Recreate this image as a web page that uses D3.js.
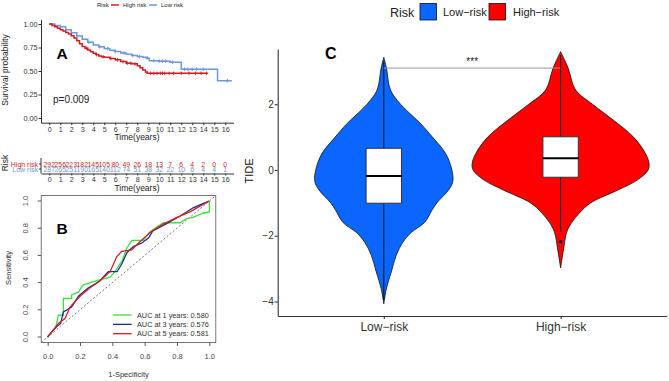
<!DOCTYPE html>
<html><head><meta charset="utf-8">
<script src="https://cdn.jsdelivr.net/npm/d3@7"></script>
<style>body{margin:0;background:#fff}svg{display:block;font-family:"Liberation Sans",Arial,sans-serif}</style>
</head><body><svg id="c" width="669" height="381"></svg>
<script>
// ---------- Panel A: Kaplan-Meier ----------
const kmHighT = [0,0.25,0.5,0.75,1.0,1.25,1.5,1.75,2.0,2.25,2.5,2.75,3.0,3.25,3.5,3.75,4.0,4.25,4.5,4.75,5.0,5.5,6.0,6.5,7.0,7.5,8.0,8.25,8.5,8.75,8.9];
const kmHighS = [1,0.985,0.97,0.955,0.94,0.925,0.91,0.893,0.876,0.85,0.823,0.79,0.76,0.742,0.724,0.705,0.69,0.675,0.66,0.652,0.647,0.633,0.62,0.60,0.583,0.576,0.555,0.535,0.51,0.49,0.475];
const kmHighEnd = 14.4;
const kmHighCens = [3.4,4.3,4.9,5.6,6.2,6.7,7.1,7.4,7.8,9.2,9.5,9.8,10.1,10.3,10.5,10.9,11.3,12.0,12.7,13.3,13.8,14.3];
const kmLowT = [0,0.5,1.0,1.5,2.0,2.5,3.0,3.5,4.0,4.5,5.0,5.5,6.0,6.5,7.0,7.5,8.0,8.5,8.9,9.1,10.0,11.0,12.0,15.3];
const kmLowS = [1,0.985,0.97,0.94,0.908,0.872,0.837,0.805,0.777,0.758,0.74,0.722,0.707,0.692,0.678,0.665,0.654,0.645,0.635,0.61,0.605,0.594,0.518,0.397];
const kmLowEnd = 16.6;
const kmLowCens = [3.6,4.6,5.3,6.0,6.8,7.6,8.2,8.9,9.5,10.0,10.3,10.6,11.2,12.3,12.6,13.0,13.4,14.0,16.2];
const timeTicks = [0,1,2,3,4,5,6,7,8,9,10,11,12,13,14,15,16];
const survTicks = [0,0.25,0.5,0.75,1];
const riskHigh = [292,256,223,182,145,105,80,49,26,18,13,7,6,4,2,0,0];
const riskLow = [287,265,251,190,165,140,112,74,51,38,32,22,10,6,4,4,1];
const pText = "p=0.009";

// ---------- Panel B: ROC ----------
const roc1 = [[0,0],[0.02,0.03],[0.05,0.07],[0.066,0.16],[0.097,0.16],[0.097,0.283],[0.148,0.283],[0.148,0.31],[0.19,0.33],[0.22,0.383],[0.32,0.42],[0.386,0.44],[0.416,0.48],[0.46,0.56],[0.49,0.655],[0.52,0.71],[0.59,0.71],[0.63,0.77],[0.715,0.84],[0.78,0.84],[0.82,0.84],[0.86,0.87],[0.9,0.88],[0.96,0.91],[1,0.92],[1,1]];
const roc3 = [[0,0],[0.02,0.03],[0.05,0.07],[0.08,0.1],[0.097,0.185],[0.148,0.22],[0.19,0.3],[0.25,0.36],[0.32,0.41],[0.375,0.48],[0.43,0.48],[0.46,0.54],[0.49,0.62],[0.53,0.665],[0.58,0.69],[0.625,0.73],[0.65,0.78],[0.73,0.83],[0.82,0.89],[0.9,0.95],[0.96,0.98],[1,1]];
const roc5 = [[0,0],[0.02,0.03],[0.04,0.06],[0.066,0.1],[0.107,0.135],[0.138,0.22],[0.2,0.3],[0.26,0.36],[0.32,0.41],[0.386,0.48],[0.427,0.59],[0.458,0.63],[0.52,0.64],[0.57,0.7],[0.645,0.78],[0.715,0.83],[0.8,0.88],[0.88,0.92],[0.94,0.96],[1,1]];
const rocLabels = ["AUC at 1 years: 0.580","AUC at 3 years: 0.576","AUC at 5 years: 0.581"];
const rocTicks = [0,0.2,0.4,0.6,0.8,1.0];

// ---------- Panel C: violin ----------
const groups = ["Low\u2212risk","High\u2212risk"];
const vioLowV = [3.43,3.1,2.43,2.0,1.4,1.0,0.5,0,-0.35,-0.6,-1.0,-1.2,-1.6,-1.9,-2.2,-2.6,-3.1,-3.6,-4.07];
const vioLowD = [0,0.03,0.076,0.19,0.42,0.55,0.70,0.77,0.78,0.735,0.60,0.55,0.46,0.31,0.215,0.14,0.085,0.03,0];
const vioHighV = [3.6,3.1,2.43,2.0,1.55,1.0,0.5,0.2,0,-0.3,-0.6,-1.0,-1.3,-1.6,-1.9,-2.4,-2.98];
const vioHighD = [0,0.085,0.17,0.36,0.58,0.825,0.96,1.0,0.99,0.87,0.655,0.34,0.215,0.125,0.068,0.034,0];
const boxLow = {q1:-1.01, med:-0.18, q3:0.66, lo:-3.95, hi:3.3};
const boxHigh = {q1:-0.22, med:0.36, q3:1.01, lo:-1.87, hi:3.5, out:[-2.18]};
const tideTicks = [-4,-2,0,2];
const sigY = 3.1;

const svg = d3.select("#c");
svg.append("rect").attr("width",669).attr("height",381).attr("fill","#fff");

const red = "#d21f26", blue = "#6b98dc";
// ===== Panel A =====
const xA = d3.scaleLinear().domain([-0.75,16.75]).range([41,233.5]);
const yA = d3.scaleLinear().domain([-0.05,1.05]).range([122.7,19.3]);
const gA = svg.append("g");
const axL = gA.append("g").attr("transform","translate(41,0)")
  .call(d3.axisLeft(yA).tickValues(survTicks).tickFormat(d3.format(".2f")).tickSize(2.5).tickSizeOuter(0));
const axB = gA.append("g").attr("transform","translate(0,122.7)")
  .call(d3.axisBottom(xA).tickValues(timeTicks).tickSize(2.5).tickSizeOuter(0));
[axL,axB].forEach(a=>{a.selectAll("text").attr("font-size",7.2).attr("fill","#333").attr("font-family","Liberation Sans");a.selectAll("line,path").attr("stroke","#333");});
axL.selectAll("text").attr("x",-3.5);
axB.selectAll("text").attr("y",4.5);
gA.append("text").attr("transform","translate(8,70) rotate(-90)").attr("text-anchor","middle").attr("font-size",8.5).attr("fill","#222").text("Survival probability");
gA.append("text").attr("x",137).attr("y",140).attr("text-anchor","middle").attr("font-size",8.5).attr("fill","#222").text("Time(years)");

function kmPath(T,S,end){
  const pts = T.map((t,i)=>[t,S[i]]); pts.push([end,S[S.length-1]]);
  return d3.line().x(d=>xA(d[0])).y(d=>yA(d[1])).curve(d3.curveStepAfter)(pts);
}
function kmAt(T,S,t){let s=S[0];for(let i=0;i<T.length;i++){if(T[i]<=t)s=S[i];}return s;}
gA.append("path").attr("d",kmPath(kmLowT,kmLowS,kmLowEnd)).attr("fill","none").attr("stroke",blue).attr("stroke-width",1.5);
gA.append("path").attr("d",kmPath(kmHighT,kmHighS,kmHighEnd)).attr("fill","none").attr("stroke",red).attr("stroke-width",1.5);
function cens(arr,T,S,col){
  arr.forEach(t=>{const x=xA(t),y=yA(kmAt(T,S,t));
    gA.append("path").attr("d",`M${x-1.8},${y}H${x+1.8}M${x},${y-1.8}V${y+1.8}`).attr("stroke",col).attr("stroke-width",0.9);});
}
cens(kmLowCens,kmLowT,kmLowS,blue);
cens(kmHighCens,kmHighT,kmHighS,red);
gA.append("text").attr("x",56.5).attr("y",59.3).attr("font-size",15.5).attr("font-weight","bold").text("A");
gA.append("text").attr("x",53).attr("y",102.5).attr("font-size",10).attr("fill","#222").text(pText);
// legend
const lg = gA.append("g").attr("font-size",6).attr("fill","#222");
lg.append("text").attr("x",97).attr("y",7).text("Risk");
lg.append("line").attr("x1",111).attr("x2",119).attr("y1",5).attr("y2",5).attr("stroke",red).attr("stroke-width",1.5);
lg.append("text").attr("x",123).attr("y",7).text("High risk");
lg.append("line").attr("x1",149).attr("x2",157).attr("y1",5).attr("y2",5).attr("stroke",blue).attr("stroke-width",1.5);
lg.append("text").attr("x",161).attr("y",7).text("Low risk");

// ===== Risk table =====
const gT = svg.append("g");
const axT = gT.append("g").attr("transform","translate(0,173.5)")
  .call(d3.axisBottom(xA).tickValues(timeTicks).tickSize(2).tickSizeOuter(0));
axT.selectAll("text").attr("font-size",7.2).attr("fill","#333").attr("y",3.5).attr("font-family","Liberation Sans");
axT.selectAll("line,path").attr("stroke","#333");
gT.append("line").attr("x1",41).attr("x2",41).attr("y1",158).attr("y2",173.5).attr("stroke","#333");
[[164,red,"High risk",riskHigh],[169,blue,"Low risk",riskLow]].forEach(([y,col,lab,vals])=>{
  gT.append("line").attr("x1",39).attr("x2",41).attr("y1",y).attr("y2",y).attr("stroke","#333");
  gT.append("text").attr("x",38).attr("y",y+2.5).attr("text-anchor","end").attr("font-size",7).attr("fill",col).text(lab);
  vals.forEach((v,i)=>gT.append("text").attr("x",xA(timeTicks[i])).attr("y",y+2.5).attr("text-anchor","middle").attr("font-size",6.9).attr("fill",col).text(v));
});
gT.append("text").attr("transform","translate(8,163) rotate(-90)").attr("text-anchor","middle").attr("font-size",8.5).attr("fill","#222").text("Risk");
gT.append("text").attr("x",137).attr("y",191).attr("text-anchor","middle").attr("font-size",8.5).attr("fill","#222").text("Time(years)");

// ===== Panel B =====
const xB = d3.scaleLinear().domain([0,1]).range([47.7,209.3]);
const yB = d3.scaleLinear().domain([0,1]).range([337,201]);
const gB = svg.append("g");
gB.append("rect").attr("x",41.2).attr("y",195.6).attr("width",174.6).attr("height",146.8).attr("fill","none").attr("stroke","#555").attr("stroke-width",0.8);
const axBx = gB.append("g").attr("transform","translate(0,342.4)").call(d3.axisBottom(xB).tickValues(rocTicks).tickFormat(d3.format(".1f")).tickSize(3.5).tickSizeOuter(0));
const axBy = gB.append("g").attr("transform","translate(41.2,0)").call(d3.axisLeft(yB).tickValues(rocTicks).tickFormat(d3.format(".1f")).tickSize(3.5).tickSizeOuter(0));
[axBx,axBy].forEach(a=>{a.select(".domain").remove();a.selectAll("line").attr("stroke","#555");a.selectAll("text").attr("font-size",7.5).attr("fill","#444").attr("font-family","Liberation Sans");});
axBx.selectAll("text").attr("y",11);
axBy.selectAll(".tick").attr("transform","translate(0,0)");
axBy.selectAll(".tick line").each(function(d){d3.select(this).attr("y1",yB(d)).attr("y2",yB(d));});
axBy.selectAll(".tick text").each(function(d){d3.select(this).attr("transform",`rotate(-90) translate(${-yB(d)},-13)`).attr("x",0).attr("y",0).attr("dy","0").attr("text-anchor","middle");});
gB.append("line").attr("x1",xB(-0.04)).attr("y1",yB(-0.04)).attr("x2",xB(1.04)).attr("y2",yB(1.04)).attr("stroke","#555").attr("stroke-width",0.8).attr("stroke-dasharray","2,2");
const rocLine = d3.line().x(d=>xB(d[0])).y(d=>yB(d[1]));
const rocCols = ["#3ee03e","#1c2d96","#d41f1f"];
[roc1,roc3,roc5].forEach((r,i)=>gB.append("path").attr("d",rocLine(r)).attr("fill","none").attr("stroke",rocCols[i]).attr("stroke-width",1.3));
gB.append("text").attr("x",56.5).attr("y",234).attr("font-size",15.5).attr("font-weight","bold").text("B");
gB.append("text").attr("x",128.5).attr("y",377).attr("text-anchor","middle").attr("font-size",7.5).attr("fill","#333").text("1-Specificity");
gB.append("text").attr("transform","translate(11,268) rotate(-90)").attr("text-anchor","middle").attr("font-size",7.5).attr("fill","#333").text("Sensitivity");
rocLabels.forEach((t,i)=>{const y=315+i*9.35;
  gB.append("line").attr("x1",113).attr("x2",131.7).attr("y1",y).attr("y2",y).attr("stroke",rocCols[i]).attr("stroke-width",1.3);
  gB.append("text").attr("x",137).attr("y",y+2.6).attr("font-size",7.3).attr("fill","#333").text(t);});

// ===== Panel C =====
const gC = svg.append("g");
const yC = d3.scaleLinear().domain([-4.44,3.68]).range([316,49]);
const xC = d3.scalePoint().domain(groups).range([277.7,666.7]).padding(0.6);
const step = xC.step();
const wC = d3.scaleLinear().domain([0,1]).range([0,0.5*step]);
const axCy = gC.append("g").attr("transform","translate(277.7,0)").call(d3.axisLeft(yC).tickValues(tideTicks).tickSize(3).tickSizeOuter(0));
const axCx = gC.append("g").attr("transform","translate(0,316)").call(d3.axisBottom(xC).tickSize(3).tickSizeOuter(0));
[axCy,axCx].forEach(a=>{a.selectAll("line,path").attr("stroke","#333").attr("stroke-width",1.1);a.selectAll("text").attr("fill","#333").attr("font-family","Liberation Sans");});
axCy.selectAll("text").attr("font-size",10).attr("x",-4);
axCx.selectAll("text").attr("font-size",12).attr("y",6);
gC.append("text").attr("transform","translate(253,171) rotate(-90)").attr("text-anchor","middle").attr("font-size",11).attr("fill","#111").text("TIDE");

function violin(V,D,cx,col){
  const pts = V.map((v,i)=>({v,d:D[i]}));
  const ar = d3.area().y(d=>yC(d.v)).x0(d=>cx-wC(d.d)).x1(d=>cx+wC(d.d)).curve(d3.curveCatmullRom.alpha(0.5));
  gC.append("path").attr("d",ar(pts)).attr("fill",col).attr("stroke","#111").attr("stroke-width",0.8);
}
function box(b,cx){
  const hw = 0.1*step;
  gC.append("line").attr("x1",cx).attr("x2",cx).attr("y1",yC(b.hi)).attr("y2",yC(b.lo)).attr("stroke","#111").attr("stroke-width",1);
  gC.append("rect").attr("x",cx-hw).attr("y",yC(b.q3)).attr("width",2*hw).attr("height",yC(b.q1)-yC(b.q3)).attr("fill","#fff").attr("stroke","#333").attr("stroke-width",1);
  gC.append("line").attr("x1",cx-hw).attr("x2",cx+hw).attr("y1",yC(b.med)).attr("y2",yC(b.med)).attr("stroke","#000").attr("stroke-width",2);
  (b.out||[]).forEach(o=>gC.append("circle").attr("cx",cx).attr("cy",yC(o)).attr("r",1.6).attr("fill","#000"));
}
const cL = xC(groups[0]), cH = xC(groups[1]);
violin(vioLowV,vioLowD,cL,"#0a66ff");
violin(vioHighV,vioHighD,cH,"#ff0000");
box(boxLow,cL); box(boxHigh,cH);
gC.append("line").attr("x1",cL).attr("x2",cH).attr("y1",yC(sigY)).attr("y2",yC(sigY)).attr("stroke","#999").attr("stroke-width",1);
gC.append("text").attr("x",(cL+cH)/2).attr("y",yC(sigY)-3).attr("text-anchor","middle").attr("font-size",10).attr("fill","#222").text("***");
gC.append("text").attr("x",325).attr("y",58.5).attr("font-size",16).attr("font-weight","bold").text("C");
// legend
gC.append("text").attr("x",390).attr("y",16.5).attr("font-size",12.5).attr("fill","#222").text("Risk");
[["#0a66ff",420,443,groups[0]],["#ff0000",489,513,groups[1]]].forEach(([c,x,tx,t])=>{
  gC.append("rect").attr("x",x).attr("y",3.5).attr("width",16.5).attr("height",16.5).attr("fill",c).attr("stroke","#111").attr("stroke-width",0.8);
  gC.append("text").attr("x",tx).attr("y",16).attr("font-size",11).attr("fill","#222").text(t);});
</script></body></html>
